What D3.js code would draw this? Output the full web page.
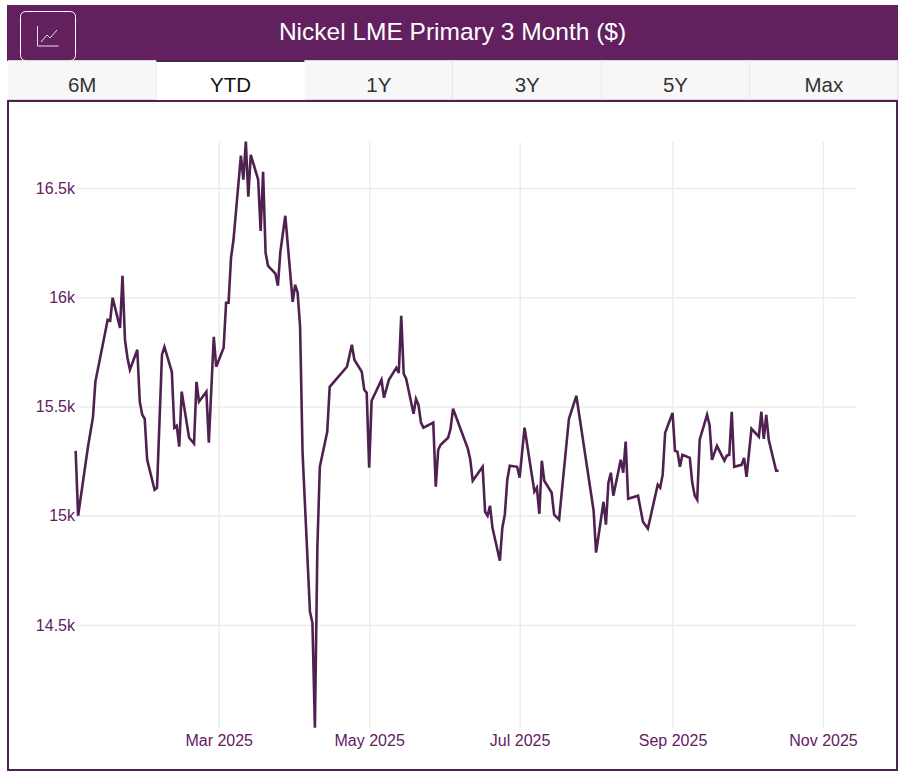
<!DOCTYPE html>
<html>
<head>
<meta charset="utf-8">
<title>Nickel LME Primary 3 Month ($)</title>
<script src="https://cdn.jsdelivr.net/npm/d3@7"></script>
<style>
  html, body { margin: 0; padding: 0; background: #fff; }
  svg { display: block; font-family: "Liberation Sans", Arial, sans-serif; }
  .tick line { stroke: #ececec; stroke-width: 1.4; }
  .domain { display: none; }
  .tick text { fill: #62205f; font-size: 16px; }
</style>
</head>
<body>
<script>
const title = 'Nickel LME Primary 3 Month ($)';
const tabs = ['6M', 'YTD', '1Y', '3Y', '5Y', 'Max'];
const activeTab = 'YTD';

const yTicks = [14500, 15000, 15500, 16000, 16500];
const yLabels = ['14.5k', '15k', '15.5k', '16k', '16.5k'];
const xTicks = ['2025-03-01', '2025-05-01', '2025-07-01', '2025-09-01', '2025-11-01'];

const dates = [
  '01-02','01-03','01-07','01-09','01-10','01-15','01-16','01-17','01-20','01-21','01-22','01-23','01-24',
  '01-27','01-28','01-29','01-30','01-31','02-03','02-04','02-06','02-07','02-10','02-11','02-12','02-13','02-14',
  '02-17','02-19','02-20','02-21','02-24','02-25','02-27','02-28','03-03','03-04','03-05','03-06','03-07',
  '03-10','03-11','03-12','03-13','03-14','03-17','03-18','03-19','03-20','03-21','03-24','03-25','03-26','03-28',
  '03-31','04-01','04-02','04-03','04-04','04-07','04-08','04-09','04-10','04-11','04-14','04-15','04-22','04-24','04-25',
  '04-28','04-29','04-30','05-01','05-02','05-06','05-07','05-09','05-12','05-13','05-14','05-15','05-16',
  '05-19','05-20','05-21','05-22','05-23','05-27','05-28','05-29','05-30','06-02','06-03','06-04','06-10','06-11','06-12',
  '06-16','06-17','06-18','06-19','06-20','06-23','06-24','06-25','06-26','06-27','06-30','07-01','07-03',
  '07-07','07-08','07-09','07-10','07-11','07-14','07-15','07-17','07-21','07-24','07-31','08-01',
  '08-04','08-05','08-06','08-07','08-08','08-11','08-12','08-13','08-14','08-18','08-20','08-22','08-26','08-27','08-28','08-29',
  '09-01','09-02','09-03','09-04','09-05','09-08','09-09','09-10','09-11','09-12','09-15','09-16','09-17','09-19',
  '09-22','09-23','09-24','09-25','09-26','09-29','09-30','10-01','10-03','10-06','10-07','10-08','10-09','10-10','10-13','10-14'
];
const prices = [
  15297,15000,15316,15449,15613,15897,15893,15998,15860,16098,15806,15723,15668,
  15760,15522,15462,15444,15256,15119,15128,15737,15773,15659,15403,15412,15316,15568,
  15357,15330,15613,15522,15568,15334,15819,15682,15769,15975,15975,16181,16263,
  16648,16538,16712,16460,16652,16538,16304,16574,16204,16144,16108,16053,16208,16373,
  15979,16057,16021,15865,15288,14561,14510,14030,14854,15224,15384,15590,15682,15783,15714,
  15659,15577,15563,15220,15526,15622,15540,15622,15677,15654,15915,15650,15627,
  15467,15535,15508,15426,15403,15426,15133,15302,15325,15357,15398,15490,15307,15256,15160,
  15224,15018,15000,15046,14945,14794,14945,15005,15165,15229,15224,15174,15403,
  15110,15128,15009,15252,15160,15105,15005,14982,15444,15549,15023,14831,
  15064,14959,15151,15197,15092,15256,15197,15339,15078,15092,14973,14941,15142,15128,15188,15380,
  15471,15297,15293,15224,15279,15265,15151,15092,15073,15348,15462,15416,15256,15320,
  15252,15275,15279,15476,15224,15233,15265,15178,15398,15362,15476,15352,15462,15348,15206,15206
];

const purple = '#62205f';
const lineColor = '#4f2150';
const parseDay = d3.utcParse('%Y-%m-%d');
const series = dates.map((d, i) => ({ date: parseDay('2025-' + d), price: prices[i] }));

const width = 908, height = 778;
const svg = d3.select('body').append('svg')
  .attr('width', width)
  .attr('height', height);

// header
svg.append('rect').attr('x', 7).attr('y', 5).attr('width', 891).attr('height', 56).attr('fill', purple);
svg.append('text')
  .attr('x', 452.5).attr('y', 40)
  .attr('text-anchor', 'middle')
  .attr('fill', '#fff')
  .style('font-size', '24.5px')
  .text(title);

// chart button
svg.append('rect')
  .attr('x', 20.5).attr('y', 11.5).attr('width', 55).attr('height', 49).attr('rx', 5)
  .attr('fill', 'none').attr('stroke', '#fff');
svg.append('path')
  .attr('d', 'M37.5 26V46H58.5 M41 42L47 35L50 38L57 30')
  .attr('fill', 'none').attr('stroke', '#e8dce8').attr('stroke-width', 1);

// tabs
const tabX = d3.scaleBand().domain(tabs).range([8, 898]);
const tabG = svg.append('g').selectAll('g').data(tabs).enter().append('g')
  .attr('transform', d => 'translate(' + tabX(d) + ',60)');
tabG.append('rect')
  .attr('width', tabX.bandwidth()).attr('height', 40)
  .attr('fill', d => d === activeTab ? '#fff' : '#f7f7f7');
tabG.filter(d => d !== activeTab).append('path')
  .attr('d', 'M0 0.5H' + tabX.bandwidth() + 'M' + tabX.bandwidth() + ' 0V39.5H0')
  .attr('fill', 'none').attr('stroke', '#d9d9d9');
tabG.filter(d => d === activeTab).append('rect')
  .attr('width', tabX.bandwidth()).attr('height', 2).attr('fill', lineColor);
tabG.append('text')
  .attr('x', tabX.bandwidth() / 2).attr('y', 32)
  .attr('text-anchor', 'middle')
  .attr('fill', d => d === activeTab ? '#111' : '#333')
  .style('font-size', '20.5px')
  .text(d => d);

// chart frame
svg.append('rect')
  .attr('x', 8).attr('y', 101).attr('width', 889).attr('height', 669)
  .attr('fill', '#fff').attr('stroke', lineColor).attr('stroke-width', 2);

// scales
const x = d3.scaleUtc()
  .domain([parseDay('2025-03-01'), parseDay('2025-11-01')])
  .range([218.7, 823]);
const y = d3.scaleLinear()
  .domain([14500, 16500])
  .range([625, 188]);

const plotLeft = 76, plotRight = 856, plotTop = 142, plotBottom = 728;

svg.append('g')
  .attr('transform', 'translate(' + plotLeft + ',0)')
  .call(d3.axisLeft(y).tickValues(yTicks).tickSize(0).tickPadding(1)
    .tickFormat((d, i) => yLabels[i]))
  .call(g => g.selectAll('.tick line')
    .attr('x2', plotRight - plotLeft));

svg.append('g')
  .attr('transform', 'translate(0,' + plotBottom + ')')
  .call(d3.axisBottom(x).tickValues(xTicks.map(parseDay)).tickSize(0).tickPadding(7)
    .tickFormat(d3.utcFormat('%b %Y')))
  .call(g => g.selectAll('.tick line')
    .attr('y2', plotTop - plotBottom));

const line = d3.line()
  .x(d => x(d.date))
  .y(d => y(d.price));

svg.append('path')
  .datum(series)
  .attr('d', line)
  .attr('fill', 'none')
  .attr('stroke', lineColor)
  .attr('stroke-width', 2.6)
  .attr('stroke-linejoin', 'miter');
</script>
</body>
</html>
